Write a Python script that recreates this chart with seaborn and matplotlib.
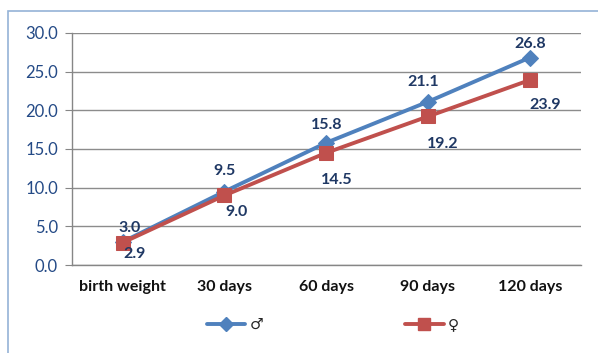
import seaborn as sns
import matplotlib.pyplot as plt
import numpy as np
import pandas as pd
from matplotlib.patches import Rectangle
from matplotlib.lines import Line2D

categories = ['birth weight', '30 days', '60 days', '90 days', '120 days']
male = [3.0, 9.5, 15.8, 21.1, 26.8]
female = [2.9, 9.0, 14.5, 19.2, 23.9]

# label offsets in pixels (labels were nudged by hand in the original)
male_off = [(7, -14), (0, -21), (0, -18), (-5, -20), (0, -14)]
female_off = [(12, 11), (12, 17), (11, 27), (15, 28), (15, 25)]

blue = '#4F81BD'
red = '#C0504D'
navy = '#1F3864'

sns.set_style('white')
plt.rcParams['font.family'] = ['Lato', 'DejaVu Sans']

df = pd.DataFrame({'cat': categories * 2,
                   'weight': male + female,
                   'sex': ['m'] * 5 + ['f'] * 5})

fig = plt.figure(figsize=(5.98, 3.53), dpi=100)
ax = fig.add_axes([0.120, 0.249, 0.851, 0.658])

sns.lineplot(data=df[df.sex == 'm'], x='cat', y='weight', color=blue, lw=2.8,
             marker='D', markersize=8, markeredgecolor=blue, ax=ax, sort=False)
sns.lineplot(data=df[df.sex == 'f'], x='cat', y='weight', color=red, lw=2.8,
             marker='s', markersize=10.5, markeredgecolor=red, ax=ax, sort=False)

# data labels
for i, v in enumerate(male):
    dx, dy = male_off[i]
    ax.annotate(f'{v:.1f}', (i, v), xytext=(dx, -dy), textcoords='offset pixels',
                ha='center', va='center', color=navy, fontsize=11.5, fontweight='bold')
for i, v in enumerate(female):
    dx, dy = female_off[i]
    ax.annotate(f'{v:.1f}', (i, v), xytext=(dx, -dy), textcoords='offset pixels',
                ha='center', va='center', color=navy, fontsize=11.5, fontweight='bold')

ax.set_xlim(-0.5, 4.5)
ax.set_ylim(0, 30)
ax.set_yticks(np.arange(0, 31, 5))
ax.set_yticklabels([f'{t:.1f}' for t in np.arange(0, 31, 5)], color='#244A86', fontsize=12)
ax.set_xticks(range(5))
ax.set_xticklabels(categories, fontsize=11.5, fontweight='bold', color='#111111')
ax.set_xticks(np.arange(-0.5, 5, 1), minor=True)
ax.tick_params(axis='x', which='major', length=0, pad=11)
ax.tick_params(axis='x', which='minor', length=5, color='#868686', direction='out')
ax.tick_params(axis='y', length=5, color='#868686', direction='out', pad=5, left=True)
ax.set_xlabel('')
ax.set_ylabel('')
ax.grid(axis='y', color='#8C8C8C', lw=1)
for s in ['top', 'right']:
    ax.spines[s].set_visible(False)
for s in ['left', 'bottom']:
    ax.spines[s].set_color('#868686')
    ax.spines[s].set_linewidth(1)

handles = [Line2D([], [], color=blue, lw=2.8, marker='D', markersize=7),
           Line2D([], [], color=red, lw=2.8, marker='s', markersize=9)]
fig.legend(handles, ['♂', '♀'], loc='center', bbox_to_anchor=(0.557, 0.08),
           ncol=2, frameon=False, columnspacing=9.3, handlelength=2.5,
           handletextpad=0.3, prop={'family': 'DejaVu Sans', 'size': 11})

# outer frame
fig.patches.append(Rectangle((8 / 598, -0.1), 1.2, 1 - 11 / 353 + 0.1,
                             transform=fig.transFigure, fill=False,
                             edgecolor='#95B3D7', lw=1.2))

fig.savefig('out.png', dpi=100)
